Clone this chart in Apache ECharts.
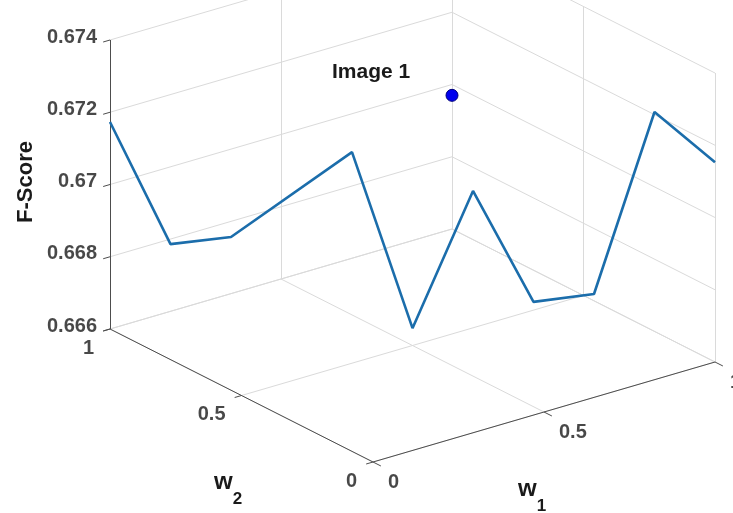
<!DOCTYPE html>
<html>
<head>
<meta charset="utf-8">
<script src="https://cdn.jsdelivr.net/npm/echarts@6/dist/echarts.min.js"></script>
<style>
  html, body { margin: 0; padding: 0; background: #fff; }
  #chart { width: 733px; height: 513px; }
</style>
</head>
<body>
<div id="chart"></div>
<script>
// F-Score along the w1 + w2 = 1 diagonal
const w1Values = [0, 0.1, 0.2, 0.4, 0.5, 0.6, 0.7, 0.8, 0.9, 1];
const fScores = [0.67173, 0.66844, 0.66873, 0.67126, 0.66648, 0.67037, 0.66739, 0.6677, 0.67283, 0.67153];
const markerPoint = [1, 1, 0.6697]; // [w1, w2, F]
const zTicks = [0.666, 0.668, 0.67, 0.672, 0.674];
const zTickLabels = ["0.666", "0.668", "0.67", "0.672", "0.674"];
const wTicks = [0, 0.5, 1];
const wTickLabels = ["0", "0.5", "1"];

const zMin = 0.666, zMax = 0.674;
const FONT = '"Liberation Sans", Arial, sans-serif';
const TEXT = "#1a1a1a";

// fixed oblique view (like matlab view(3)), projected onto a pixel plane
const view = { ox: 373, oy: 462, e1: [342, -100], e2: [-263, -133], zSpan: 289 };
function proj(w1, w2, z) {
  const t = (z - zMin) / (zMax - zMin);
  return [
    view.ox + view.e1[0] * w1 + view.e2[0] * w2,
    view.oy + view.e1[1] * w1 + view.e2[1] * w2 - view.zSpan * t,
  ];
}

// back walls + floor grid
const gridSegs = [];
zTicks.forEach((z) => {
  gridSegs.push([proj(0, 1, z), proj(1, 1, z)]);
  gridSegs.push([proj(1, 1, z), proj(1, 0, z)]);
});
wTicks.forEach((w) => {
  gridSegs.push([proj(w, 1, zMin), proj(w, 1, zMax)]);
  gridSegs.push([proj(1, w, zMin), proj(1, w, zMax)]);
  gridSegs.push([proj(w, 0, zMin), proj(w, 1, zMin)]);
  gridSegs.push([proj(0, w, zMin), proj(1, w, zMin)]);
});

// axes and ticks
const axisSegs = [
  [proj(0, 1, zMin), proj(0, 1, zMax)],
  [proj(0, 0, zMin), proj(0, 1, zMin)],
  [proj(0, 0, zMin), proj(1, 0, zMin)],
];
zTicks.forEach((z) => axisSegs.push([proj(-0.02, 1, z), proj(0, 1, z)]));
wTicks.forEach((w) => {
  axisSegs.push([proj(-0.02, w, zMin), proj(0, w, zMin)]);
  axisSegs.push([proj(w, -0.03, zMin), proj(w, 0, zMin)]);
});

const curve = w1Values.map((w, i) => proj(w, 1 - w, fScores[i]));

const labelBase = { show: true, color: TEXT, fontFamily: FONT, fontWeight: "bold", fontSize: 20 };
const subRich = {
  w: { fontFamily: FONT, fontWeight: "bold", fontSize: 24, lineHeight: 24, verticalAlign: "top" },
  s: { fontFamily: FONT, fontWeight: "bold", fontSize: 17, lineHeight: 58, verticalAlign: "middle" },
};

const chart = echarts.init(document.getElementById("chart"));
chart.setOption({
  animation: false,
  backgroundColor: "#fff",
  title: {
    text: "Image 1",
    left: 327,
    top: 57,
    textStyle: { color: TEXT, fontFamily: FONT, fontWeight: "bold", fontSize: 21 },
  },
  grid: { left: 0, right: 0, top: 0, bottom: 0 },
  xAxis: { type: "value", min: 0, max: 733, show: false },
  yAxis: { type: "value", min: 0, max: 513, inverse: true, show: false },
  series: [
    {
      type: "lines",
      coordinateSystem: "cartesian2d",
      silent: true,
      lineStyle: { color: "#dadada", width: 1, opacity: 1 },
      data: gridSegs.map((c) => ({ coords: c })),
    },
    {
      type: "lines",
      coordinateSystem: "cartesian2d",
      silent: true,
      lineStyle: { color: "#4d4d4d", width: 1, opacity: 1 },
      data: axisSegs.map((c) => ({ coords: c })),
    },
    {
      type: "line",
      data: curve,
      symbol: "none",
      lineStyle: { color: "#1b6dab", width: 2.6 },
    },
    {
      type: "scatter",
      data: [proj(...markerPoint)],
      symbolSize: 12,
      itemStyle: { color: "#0000ee", borderColor: "#00007a", borderWidth: 1, opacity: 1 },
    },
    {
      // z tick labels
      type: "scatter",
      symbolSize: 0,
      data: zTicks.map((z, i) => ({ value: proj(0, 1, z), name: zTickLabels[i] })),
      label: { ...labelBase, position: "left", distance: 13, offset: [0, -3], formatter: "{b}" },
    },
    {
      // w2 tick labels
      type: "scatter",
      symbolSize: 0,
      data: wTicks.map((w, i) => ({ value: proj(0, w, zMin), name: wTickLabels[i] })),
      label: { ...labelBase, position: [-16, 19], align: "right", verticalAlign: "middle", formatter: "{b}" },
    },
    {
      // w1 tick labels
      type: "scatter",
      symbolSize: 0,
      data: wTicks.map((w, i) => ({ value: proj(w, 0, zMin), name: wTickLabels[i] })),
      label: { ...labelBase, position: [15, 20], align: "left", verticalAlign: "middle", formatter: "{b}" },
    },
  ],
  graphic: [
    {
      type: "text",
      x: 25.5,
      y: 182,
      rotation: Math.PI / 2,
      style: {
        text: "F-Score",
        align: "center",
        verticalAlign: "middle",
        fill: TEXT,
        font: 'bold 22px "Liberation Sans", Arial, sans-serif',
      },
    },
    {
      type: "text",
      x: 214,
      y: 470,
      style: { text: "{w|w}{s|2}", fill: TEXT, rich: subRich },
    },
    {
      type: "text",
      x: 518,
      y: 477,
      style: { text: "{w|w}{s|1}", fill: TEXT, rich: subRich },
    },
  ],
});
</script>
</body>
</html>
